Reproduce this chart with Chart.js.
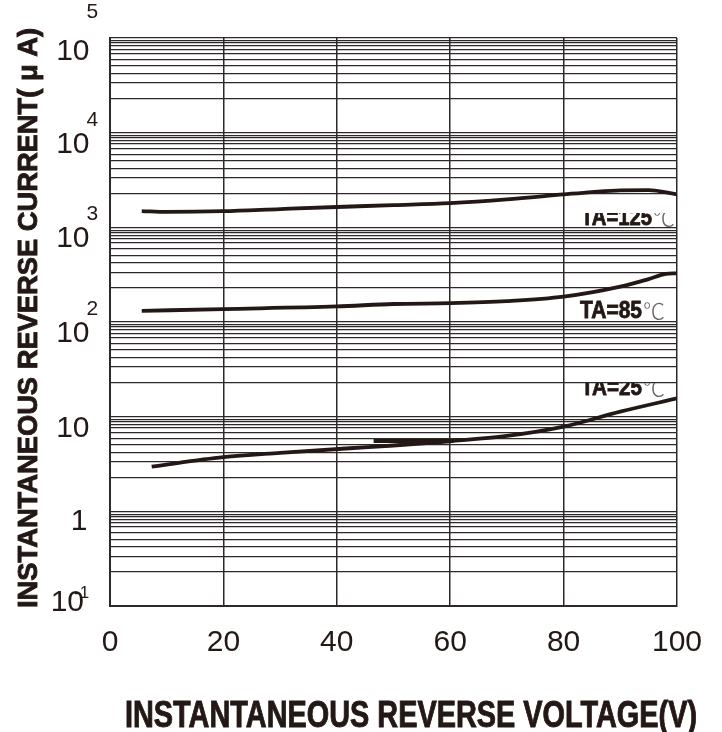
<!DOCTYPE html>
<html><head><meta charset="utf-8">
<script src="https://cdn.jsdelivr.net/npm/chart.js@4"></script>
<style>html,body{margin:0;padding:0;background:#fff}#wrap{width:722px;height:732px;position:relative}</style>
</head><body><div id="wrap"><canvas id="c"></canvas></div>
<script>
// ---- data ----
const xTickLabels = ['0', '20', '40', '60', '80', '100'];
const decadeExponents = [5, 4, 3, 2, 1, 0, -1];
const yLabelBase = ['10', '10', '10', '10', '10', '1', '10'];
const yLabelExp = ['5', '4', '3', '2', '', '', '-1'];
// minor gridlines: fractions of a decade below each decade line
const minorFractions = [0.03, 0.053, 0.086, 0.121, 0.165, 0.227, 0.296, 0.376, 0.474, 0.642];

const ta125V = [5.6, 10, 20, 30, 40, 50, 60, 70, 80, 85, 90, 95, 100];
const ta125I = [1486, 1455, 1480, 1559, 1640, 1718, 1806, 1976, 2228, 2360, 2460, 2470, 2228];

const ta85V = [5.6, 20, 40, 50, 60, 70, 80, 90, 95, 98, 100];
const ta85I = [131, 137, 146, 155, 158, 166, 185, 236, 284, 322, 327];

const ta25V = [7.35, 20, 30, 42.3, 50, 60, 70, 80, 90, 100];
const ta25I = [2.97, 3.73, 4.14, 4.64, 4.96, 5.5, 6.25, 7.84, 11.3, 15.6];

const markV = [46.5, 60.6];
const markI = [5.54, 5.54];

const curveLabels = ['TA=125', 'TA=85', 'TA=25'];
const unitSymbol = '\u2103';
const xTitle = 'INSTANTANEOUS REVERSE VOLTAGE(V)';
const yTitle = 'INSTANTANEOUS REVERSE CURRENT( \u03bc A)';

// ---- build ----
const INK = '#231815';
const GRID = '#2e2829';
const yTickValues = [];
decadeExponents.forEach(function (e) {
  yTickValues.push(Math.pow(10, e));
  if (e > -1) minorFractions.forEach(function (f) { yTickValues.push(Math.pow(10, e - f)); });
});
function pts(xs, ys) { return xs.map(function (v, i) { return { x: v, y: ys[i] }; }); }
function curve(xs, ys, w) {
  return { data: pts(xs, ys), borderColor: INK, borderWidth: w, pointRadius: 0, fill: false,
    cubicInterpolationMode: 'monotone', borderCapStyle: 'butt' };
}

const textPlugin = {
  id: 'texts',
  afterDraw: function (chart) {
    const ctx = chart.ctx, ys = chart.scales.y;
    ctx.save();
    ctx.fillStyle = INK;
    // y tick labels with superscripts
    decadeExponents.forEach(function (e, i) {
      const py = ys.getPixelForValue(Math.pow(10, e));
      ctx.font = '30px "Liberation Sans", Arial, sans-serif';
      ctx.textAlign = 'right';
      ctx.textBaseline = 'alphabetic';
      let by = py + 20, rx = 89.5;
      if (e === 5) by = py + 22;
      if (e === 0) { rx = 87.5; by = py + 19; }
      if (e === -1) { rx = 84; by = py + 5; }
      ctx.fillText(yLabelBase[i], rx, by);
      if (yLabelExp[i]) {
        ctx.textAlign = 'left';
        let ex = 86.5, ey = py - 7;
        ctx.font = '21px "Liberation Sans", Arial, sans-serif';
        if (e === 5) ey = py - 20;
        if (e === -1) { ex = 74; ey = py - 8; ctx.font = '17px "Liberation Sans", Arial, sans-serif'; }
        ctx.fillText(yLabelExp[i], ex, ey);
      }
    });
    // curve labels
    const lab = [
      { t: curveLabels[0], x: 581, y: 225, w: 71, clip: 213 },
      { t: curveLabels[1], x: 580, y: 318, w: 62, clip: 0 },
      { t: curveLabels[2], x: 581, y: 395, w: 61, clip: 383 }
    ];
    lab.forEach(function (l) {
      ctx.save();
      if (l.clip) { ctx.beginPath(); ctx.rect(560, l.clip, 140, 40); ctx.clip(); }
      ctx.textAlign = 'left';
      ctx.textBaseline = 'alphabetic';
      ctx.font = 'bold 24px "Liberation Sans Narrow", "Liberation Sans", Arial, sans-serif';
      const mw = ctx.measureText(l.t).width;
      ctx.save();
      ctx.translate(l.x, l.y);
      ctx.scale(l.w / mw, 1);
      ctx.fillStyle = INK;
      ctx.fillText(l.t, 0, 0);
      ctx.lineWidth = 0.8; ctx.strokeStyle = INK; ctx.strokeText(l.t, 0, 0);
      ctx.restore();
      ctx.font = '300 22px "Noto Sans CJK SC", "DejaVu Sans", sans-serif';
      ctx.fillStyle = '#6a6566';
      ctx.fillText(unitSymbol, l.x + l.w + 1, l.y + 1);
      ctx.restore();
    });
    // axis titles
    ctx.fillStyle = INK;
    ctx.strokeStyle = INK;
    ctx.lineWidth = 0.9;
    ctx.textAlign = 'center';
    ctx.textBaseline = 'alphabetic';
    ctx.font = 'bold 36px "Liberation Sans Narrow", "Liberation Sans", Arial, sans-serif';
    let w = ctx.measureText(xTitle).width;
    ctx.save();
    ctx.translate(411, 727);
    ctx.scale(572 / w, 1);
    ctx.fillText(xTitle, 0, 0);
    ctx.strokeText(xTitle, 0, 0);
    ctx.restore();
    ctx.font = 'bold 28px "Liberation Sans Narrow", "Liberation Sans", Arial, sans-serif';
    w = ctx.measureText(yTitle).width;
    ctx.save();
    ctx.translate(37, 318);
    ctx.rotate(-Math.PI / 2);
    ctx.scale(580 / w, 1);
    ctx.fillText(yTitle, 0, 0);
    ctx.strokeText(yTitle, 0, 0);
    ctx.restore();
    ctx.restore();
  }
};

new Chart(document.getElementById('c'), {
  type: 'line',
  data: {
    datasets: [
      curve(ta125V, ta125I, 3.8),
      curve(ta85V, ta85I, 3.8),
      curve(ta25V, ta25I, 3.8),
      Object.assign(curve(markV, markI, 4), { cubicInterpolationMode: 'default', tension: 0 })
    ]
  },
  options: {
    responsive: true,
    maintainAspectRatio: false,
    animation: false,
    events: [],
    layout: { padding: { top: 38, right: 45, left: 0, bottom: 0 } },
    plugins: { legend: { display: false }, tooltip: { enabled: false }, title: { display: false } },
    scales: {
      x: {
        type: 'linear', min: 0, max: 100,
        afterFit: function (s) { s.height = 126; },
        ticks: {
          stepSize: 20, padding: 19, color: INK,
          font: { size: 30, family: '"Liberation Sans", Arial, sans-serif' },
          callback: function (v, i) { return xTickLabels[i]; }
        },
        grid: { color: GRID, lineWidth: 1.5, drawTicks: false },
        border: { display: true, color: GRID, width: 2 }
      },
      y: {
        type: 'logarithmic', min: 0.1, max: 100000,
        afterFit: function (s) { s.width = 110; },
        afterBuildTicks: function (s) { s.ticks = yTickValues.map(function (v) { return { value: v }; }); },
        ticks: { display: false },
        grid: { color: GRID, lineWidth: 1.3, drawTicks: false },
        border: { display: true, color: GRID, width: 2 }
      }
    }
  },
  plugins: [textPlugin]
});
</script>
</body></html>
